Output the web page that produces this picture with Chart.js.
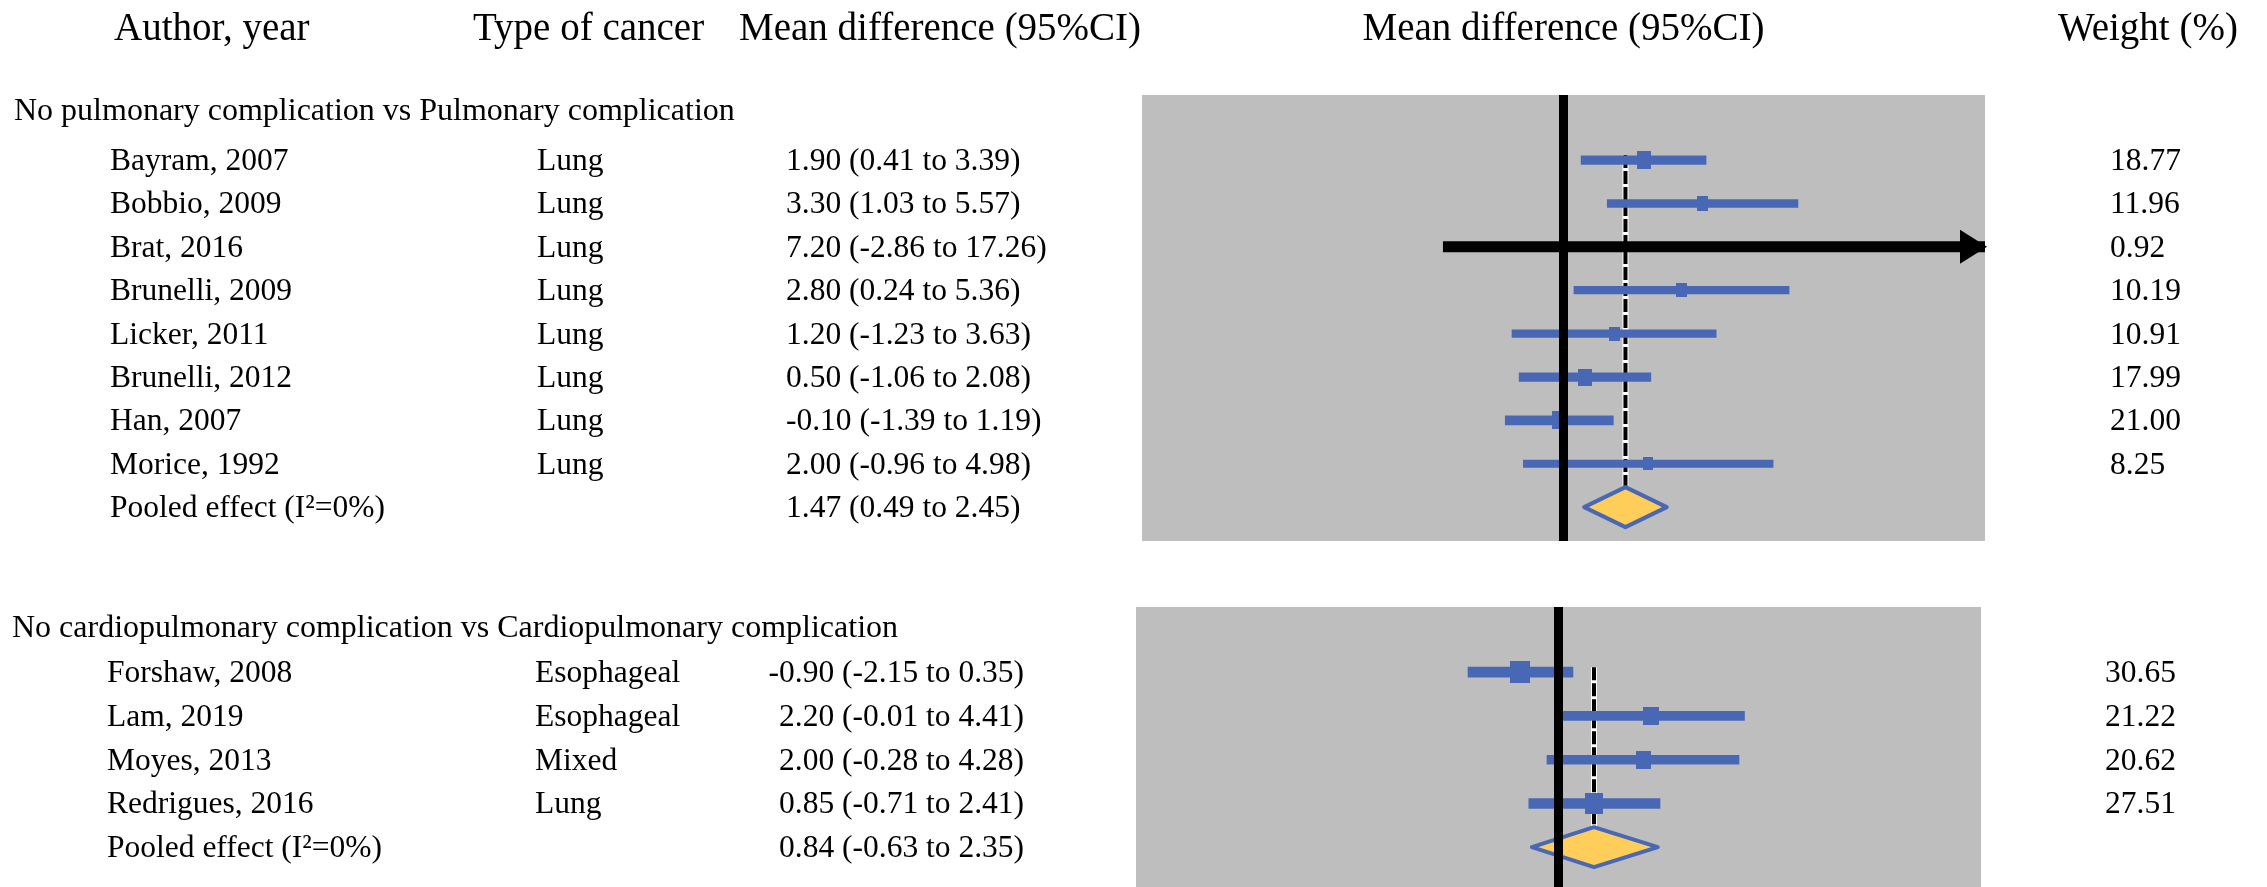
<!DOCTYPE html>
<html lang="en">
<head>
    <meta charset="UTF-8">
    <title>Forest plot - mean difference by complication</title>
    <script src="https://cdn.jsdelivr.net/npm/chart.js"></script>
    <style>
        html, body { margin: 0; padding: 0; background: #fff; }
        body { position: relative; width: 2267px; height: 887px; overflow: hidden; }
        canvas { position: absolute; left: 0; }
        #pulmonaryChart { top: 0; }
        #cardioChart { top: 560px; }
    </style>
</head>
<body>

<canvas id="pulmonaryChart" width="2267" height="560"></canvas>
<canvas id="cardioChart" width="2267" height="327"></canvas>

<script>
// column headings
const headings = ['Author, year', 'Type of cancer', 'Mean difference (95%CI)', 'Mean difference (95%CI)', 'Weight (%)'];
const pooledLabel = 'Pooled effect (I\u00B2=0%)';
const xLimits = [-10, 10];

// No pulmonary complication vs Pulmonary complication
const pulmTitle = 'No pulmonary complication vs Pulmonary complication';
const pulmStudies = ['Bayram, 2007', 'Bobbio, 2009', 'Brat, 2016', 'Brunelli, 2009', 'Licker, 2011', 'Brunelli, 2012', 'Han, 2007', 'Morice, 1992'];
const pulmCancer = ['Lung', 'Lung', 'Lung', 'Lung', 'Lung', 'Lung', 'Lung', 'Lung'];
const pulmMean = [1.90, 3.30, 7.20, 2.80, 1.20, 0.50, -0.10, 2.00];
const pulmLow = [0.41, 1.03, -2.86, 0.24, -1.23, -1.06, -1.39, -0.96];
const pulmHigh = [3.39, 5.57, 17.26, 5.36, 3.63, 2.08, 1.19, 4.98];
const pulmWeight = [18.77, 11.96, 0.92, 10.19, 10.91, 17.99, 21.00, 8.25];
const pulmPooled = [1.47, 0.49, 2.45];   // estimate, low, high

// No cardiopulmonary complication vs Cardiopulmonary complication
const cardioTitle = 'No cardiopulmonary complication vs Cardiopulmonary complication';
const cardioStudies = ['Forshaw, 2008', 'Lam, 2019', 'Moyes, 2013', 'Redrigues, 2016'];
const cardioCancer = ['Esophageal', 'Esophageal', 'Mixed', 'Lung'];
const cardioMean = [-0.90, 2.20, 2.00, 0.85];
const cardioLow = [-2.15, -0.01, -0.28, -0.71];
const cardioHigh = [0.35, 4.41, 4.28, 2.41];
const cardioWeight = [30.65, 21.22, 20.62, 27.51];
const cardioPooled = [0.84, -0.63, 2.35];

const BLUE = '#4868b6';
const GREY = '#bebebe';
const GOLD = '#ffcd5a';
const SERIF = '"Liberation Serif", "Times New Roman", serif';
const HALF_DIAMOND = 20;

function fmt(v) { return v.toFixed(2); }

function ciWidth(w) { return 7 + w / 8; }

// study marker, sized by weight
function marker(w) {
    const c = document.createElement('canvas');
    c.width = Math.round(6 + w * 0.45);
    c.height = Math.round(10 + w * 0.4);
    const g = c.getContext('2d');
    g.fillStyle = BLUE;
    g.fillRect(0, 0, c.width, c.height);
    return c;
}

function drawForest(id, s) {
    const n = s.studies.length;

    const datasets = s.studies.map((name, i) => {
        const cut = s.high[i] > xLimits[1];
        return {
            label: name,
            showLine: true,
            data: [{x: Math.max(s.low[i], xLimits[0]), y: i}, {x: Math.min(s.high[i], xLimits[1]), y: i}],
            borderColor: cut ? '#000' : BLUE,
            borderWidth: cut ? 11 : ciWidth(s.weight[i]),
            borderCapStyle: 'butt',
            pointRadius: 0,
            order: 2
        };
    });
    datasets.push({
        label: 'Mean difference',
        data: s.mean.map((m, i) => ({x: m, y: i})),
        pointStyle: s.weight.map(marker),
        pointRadius: s.high.map(h => h > xLimits[1] ? 0 : 5),
        order: 1
    });

    const decor = {
        id: 'forestDecor',
        beforeDatasetsDraw(chart) {
            const {ctx, chartArea: a, scales: {x, y}} = chart;
            ctx.save();
            ctx.fillStyle = GREY;
            ctx.fillRect(a.left, a.top, a.width, a.height);
            // pooled estimate reference line
            const px = x.getPixelForValue(s.pooled[0]);
            ctx.beginPath();
            ctx.moveTo(px, y.getPixelForValue(0) - 5);
            ctx.lineTo(px, y.getPixelForValue(n) - HALF_DIAMOND);
            ctx.lineWidth = 6;
            ctx.strokeStyle = '#fff';
            ctx.stroke();
            ctx.setLineDash([13, 3]);
            ctx.lineWidth = 4;
            ctx.strokeStyle = '#000';
            ctx.stroke();
            ctx.restore();
        },
        afterDatasetsDraw(chart) {
            const {ctx, chartArea: a, scales: {x, y}} = chart;
            ctx.save();
            // pooled diamond
            const yc = y.getPixelForValue(n);
            const [est, lo, hi] = s.pooled;
            ctx.beginPath();
            ctx.moveTo(x.getPixelForValue(lo), yc);
            ctx.lineTo(x.getPixelForValue(est), yc - HALF_DIAMOND);
            ctx.lineTo(x.getPixelForValue(hi), yc);
            ctx.lineTo(x.getPixelForValue(est), yc + HALF_DIAMOND);
            ctx.closePath();
            ctx.fillStyle = GOLD;
            ctx.fill();
            ctx.lineWidth = 4;
            ctx.lineJoin = 'round';
            ctx.strokeStyle = BLUE;
            ctx.stroke();
            // arrow heads where the interval runs off the axis
            ctx.fillStyle = '#000';
            s.high.forEach((h, i) => {
                if (h <= xLimits[1]) return;
                const yy = y.getPixelForValue(i);
                ctx.beginPath();
                ctx.moveTo(a.right + 2, yy);
                ctx.lineTo(a.right - 25, yy - 17);
                ctx.lineTo(a.right - 25, yy + 17);
                ctx.closePath();
                ctx.fill();
            });
            // line of no effect
            const zx = x.getPixelForValue(0);
            ctx.fillRect(zx - 4.5, a.top, 9, a.height);
            ctx.restore();
        },
        afterDraw(chart) {
            const {ctx, chartArea: a, scales: {y}} = chart;
            ctx.save();
            ctx.fillStyle = '#000';
            ctx.textBaseline = 'alphabetic';
            ctx.textAlign = 'left';
            if (s.showHeadings) {
                ctx.font = '39px ' + SERIF;
                ctx.fillText(headings[0], 114, 40);
                ctx.fillText(headings[1], 473, 40);
                ctx.fillText(headings[2], 739, 40);
                ctx.textAlign = 'center';
                ctx.fillText(headings[3], (a.left + a.right) / 2, 40);
                ctx.textAlign = 'left';
                ctx.fillText(headings[4], 2058, 40);
            }
            ctx.font = '32px ' + SERIF;
            ctx.fillText(s.title, s.titleX, s.titleY);

            ctx.font = '31.5px ' + SERIF;
            for (let i = 0; i <= n; i++) {
                const base = y.getPixelForValue(i) + 10;
                const pooled = i === n;
                const ci = pooled ? s.pooled : [s.mean[i], s.low[i], s.high[i]];
                ctx.textAlign = 'left';
                ctx.fillText(pooled ? pooledLabel : s.studies[i], s.nameX, base);
                if (!pooled) {
                    ctx.fillText(s.cancer[i], s.typeX, base);
                    ctx.fillText(fmt(s.weight[i]), s.weightX, base);
                }
                ctx.textAlign = s.ciAlign;
                ctx.fillText(`${fmt(ci[0])} (${fmt(ci[1])} to ${fmt(ci[2])})`, s.ciX, base);
            }
            ctx.restore();
        }
    };

    return new Chart(document.getElementById(id), {
        type: 'scatter',
        data: { datasets },
        options: {
            responsive: false,
            devicePixelRatio: 1,
            animation: false,
            events: [],
            layout: { padding: s.padding, autoPadding: false },
            scales: {
                x: { type: 'linear', min: xLimits[0], max: xLimits[1], display: false },
                y: { type: 'linear', min: s.yMin, max: s.yMax, reverse: true, display: false }
            },
            plugins: { legend: { display: false }, tooltip: { enabled: false } }
        },
        plugins: [decor]
    });
}

drawForest('pulmonaryChart', {
    title: pulmTitle, studies: pulmStudies, cancer: pulmCancer, mean: pulmMean,
    low: pulmLow, high: pulmHigh, weight: pulmWeight, pooled: pulmPooled,
    showHeadings: true,
    titleX: 14, titleY: 120, nameX: 110, typeX: 537, ciX: 786, ciAlign: 'left', weightX: 2110,
    padding: { left: 1142, right: 282, top: 95, bottom: 19 },
    yMin: -1.5, yMax: 8.78
});

drawForest('cardioChart', {
    title: cardioTitle, studies: cardioStudies, cancer: cardioCancer, mean: cardioMean,
    low: cardioLow, high: cardioHigh, weight: cardioWeight, pooled: cardioPooled,
    showHeadings: false,
    titleX: 12, titleY: 77, nameX: 107, typeX: 535, ciX: 1024, ciAlign: 'right', weightX: 2105,
    padding: { left: 1136, right: 286, top: 47, bottom: 0 },
    yMin: -1.49, yMax: 4.91
});
</script>
</body>
</html>
